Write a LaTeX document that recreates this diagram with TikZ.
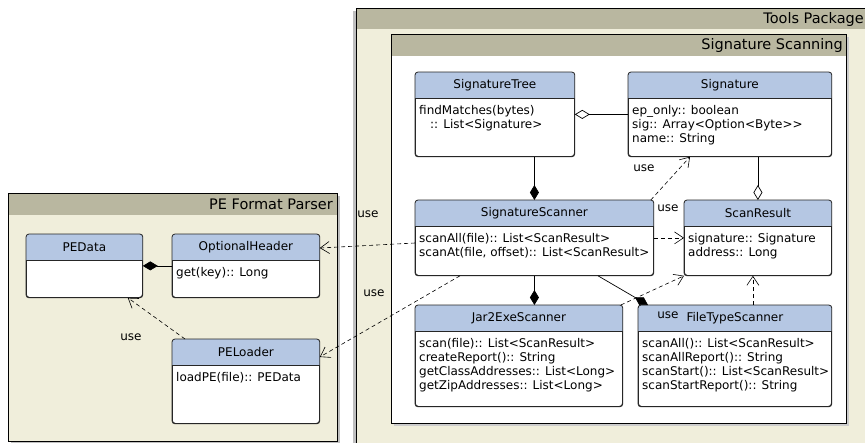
\documentclass[tikz,border=0pt]{standalone}
\usepackage{fontspec}
\setmainfont{DejaVu Sans}
\usetikzlibrary{arrows.meta}
\usetikzlibrary{calc}

\definecolor{pkgback}{RGB}{240,238,219}
\definecolor{pkgtab}{RGB}{185,183,160}
\definecolor{headblue}{RGB}{181,199,227}

\tikzset{
 classbox/.style={draw=black!85, fill=white, rounded corners=3pt, line width=0.8pt, inner sep=0pt, anchor=north west},
 classtitle/.style={font=\fontsize{12}{14}\selectfont, inner sep=0pt},
 classbody/.style={font=\fontsize{12}{14}\selectfont, align=left, inner sep=0pt, anchor=north west},
 use/.style={dash pattern=on 4pt off 3pt, line width=0.6pt, -{Straight Barb[length=9pt,width=12pt]}},
 comp/.style={line width=0.7pt, -{Diamond[length=15pt,width=9pt]}},
 aggr/.style={line width=0.7pt, {Diamond[open,length=15pt,width=9pt]}-},
 uselabel/.style={font=\fontsize{12}{14}\selectfont, inner sep=0pt},
 pkgtitle/.style={font=\fontsize{14.5}{17}\selectfont, inner sep=0pt, anchor=east},
}

% name, x, y, width, height, title, body
\newcommand{\umlclass}[7]{%
 \node[classbox, minimum width=#4, minimum height=#5] (#1) at (#2,#3) {};
 \fill[headblue, rounded corners=3pt] (#1.north west) rectangle ([yshift=-26pt]#1.north east);
 \fill[headblue] ([yshift=-18pt]#1.north west) rectangle ([yshift=-26pt]#1.north east);
 \draw[black!85, line width=0.8pt, rounded corners=3pt] (#1.north west) rectangle (#1.south east);
 \draw[black!85, line width=0.8pt] ([yshift=-26pt]#1.north west) -- ([yshift=-26pt]#1.north east);
 \node[classtitle] (#1-title) at ([yshift=-13pt]#1.north) {#6};
 \node[classbody] (#1-body) at ([xshift=4pt,yshift=-33.5pt]#1.north west) {#7};
}

\begin{document}
\begin{tikzpicture}[x=1pt, y=-1pt]
\useasboundingbox (0,0) rectangle (865,442);

% packages
\fill[black!25] (11,196) rectangle (340,445);
\fill[pkgback] (8,193) rectangle (337,441);
\fill[pkgtab] (8,193) rectangle (337,215);
\draw[line width=0.8pt] (8,193) rectangle (337,441);
\node[pkgtitle] (pe-title) at (333,204.5) {PE Format Parser};

\fill[black!25] (353,11) rectangle (880,460);
\fill[pkgback] (356,8) rectangle (880,460);
\fill[pkgtab] (356,8) rectangle (880,29);
\draw[line width=0.8pt] (356,8) rectangle (880,460);
\node[pkgtitle] (tools-title) at (864,19) {Tools Package};

\fill[black!20] (394,37) rectangle (849,426);
\fill[white] (391,34) rectangle (846,423);
\fill[pkgtab] (391,34) rectangle (846,56);
\draw[line width=0.8pt] (391,34) rectangle (846,423);
\node[pkgtitle] (scan-title) at (843,45.5) {Signature Scanning};

% classes
\umlclass{pedata}{26}{234}{116pt}{63pt}{PEData}{}
\umlclass{opthdr}{172}{234}{147pt}{63pt}{OptionalHeader}{get(key):: Long}
\umlclass{peloader}{172}{339}{147pt}{84pt}{PELoader}{loadPE(file):: PEData}
\umlclass{sigtree}{415}{72}{159pt}{84pt}{SignatureTree}{findMatches(bytes)\\\hspace*{11pt}:: List<Signature>}
\umlclass{sig}{628}{72}{203pt}{84pt}{Signature}{ep\_only:: boolean\\sig:: Array<Option<Byte>{}>\\name:: String}
\umlclass{sigscan}{415}{200}{238pt}{75pt}{SignatureScanner}{scanAll(file):: List<ScanResult>\\scanAt(file, offset):: List<ScanResult>}
\umlclass{scanres}{684}{200}{147pt}{75pt}{ScanResult}{signature:: Signature\\address:: Long}
\umlclass{jar}{415}{305}{207pt}{101pt}{Jar2ExeScanner}{scan(file):: List<ScanResult>\\createReport():: String\\getClassAddresses:: List<Long>\\getZipAddresses:: List<Long>}
\umlclass{ftype}{638}{305}{193pt}{101pt}{FileTypeScanner}{scanAll():: List<ScanResult>\\scanAllReport():: String\\scanStart():: List<ScanResult>\\scanStartReport():: String}

% connectors
\draw[aggr] (sigtree.east) -- (sig.west);
\draw[comp] (sigtree.south -| sigscan.north) -- (sigscan.north);
\draw[aggr] (scanres.north) -- (sig.south -| scanres.north);
\draw[comp] (sigscan.south) -- (jar.north -| sigscan.south);
\draw[comp] ([xshift=183pt]sigscan.south west) -- ([xshift=10pt]ftype.north west);
\draw[comp] (opthdr.west) -- (pedata.east);

\coordinate (res-in) at ([xshift=-5pt]scanres.south);
\draw[use] ([xshift=-3pt]sigscan.north east) -- ([xshift=62pt]sig.south west);
\draw[use] (sigscan.east) -- (scanres.west);
\draw[use] ([xshift=-2pt]jar.north east) -- (scanres.south west);
\draw[use] (ftype.north -| res-in) -- (res-in);
\draw[use] ([yshift=-43pt]sigscan.north west) -- ([yshift=-14pt]opthdr.north east);
\draw[use] ([xshift=45pt]sigscan.south west) -- ([yshift=-18pt]peloader.north east);
\draw[use] ([xshift=13pt]peloader.north west) -- ([xshift=-15pt]pedata.south east);

% labels
\node[uselabel] (use-sig) at (644,168) {use};
\node[uselabel] (use-res) at (668,208) {use};
\node[uselabel] (use-jar) at (668,315) {use};
\node[uselabel] (use-opt) at (368,214) {use};
\node[uselabel] (use-pel) at (374,293) {use};
\node[uselabel] (use-pedata) at (131,337) {use};
\end{tikzpicture}
\end{document}
